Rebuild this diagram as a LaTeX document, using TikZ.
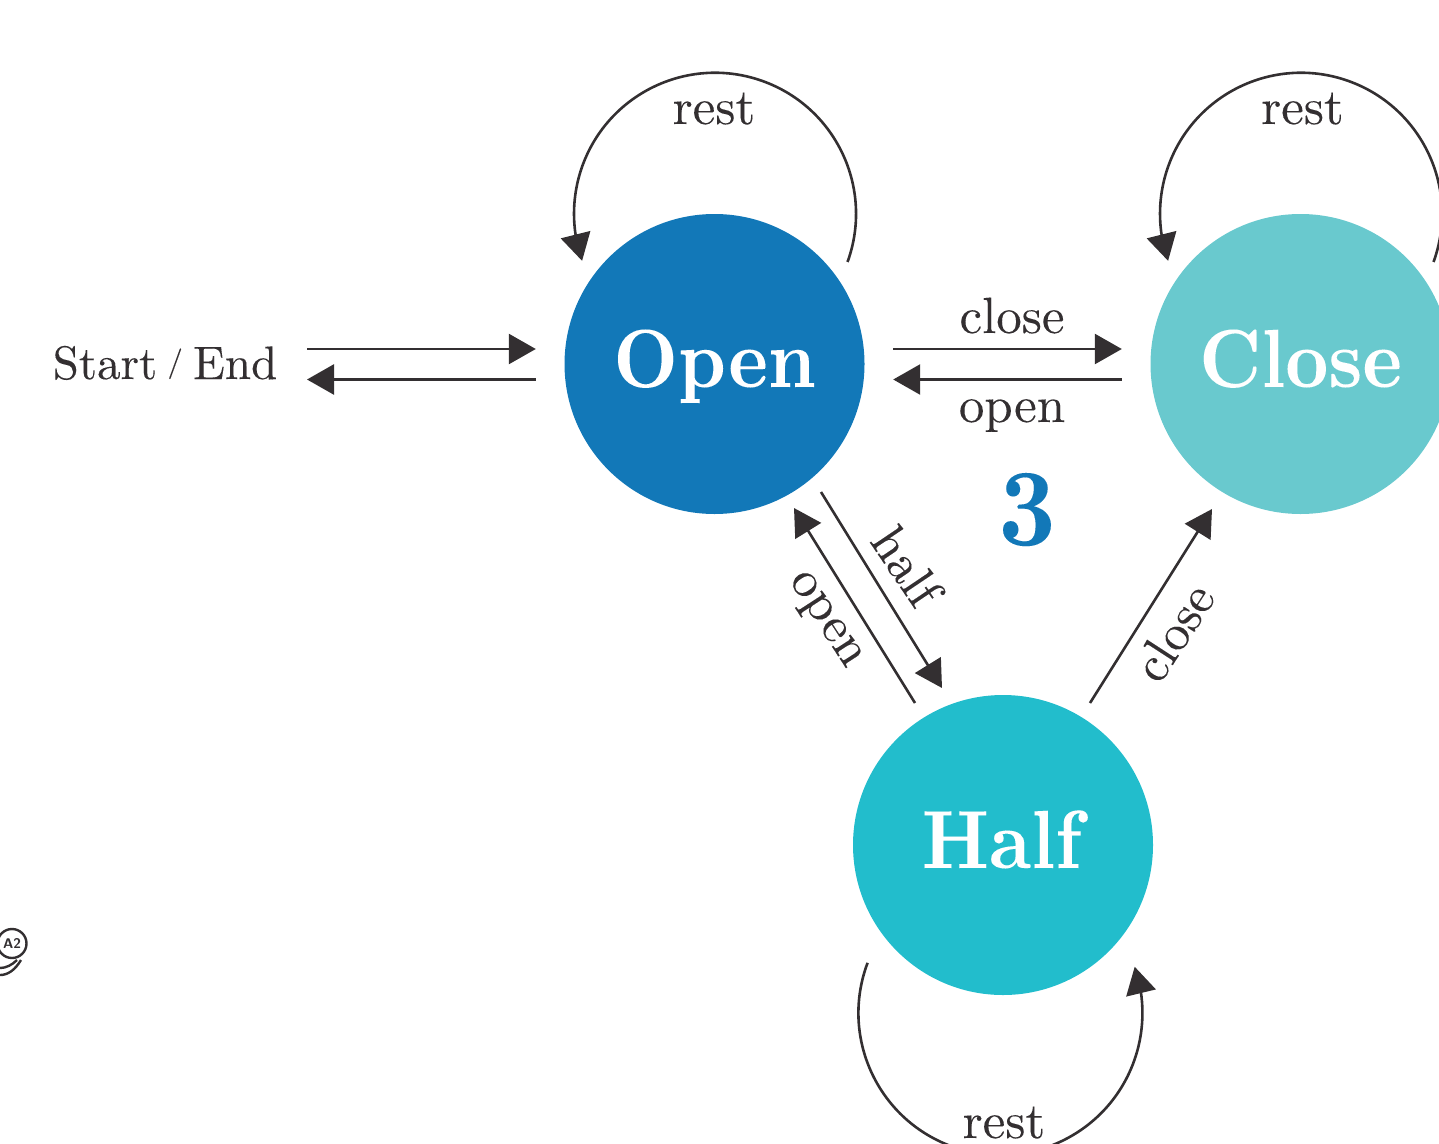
\documentclass[tikz,border=0pt]{standalone}
\usepackage{fontspec}
\usetikzlibrary{arrows.meta,bending}
\setmainfont{lmroman10-regular.otf}[FakeBold=0.12]
\newfontfamily\startfont{lmroman10-regular.otf}[FakeBold=0.12,WordSpace=0.65]
\newfontfamily\heavyfont{lmroman10-bold.otf}[FakeBold=0.04]
\definecolor{inkc}{HTML}{332F31}
\definecolor{openc}{HTML}{1278B8}
\definecolor{closec}{HTML}{69C9CE}
\definecolor{halfc}{HTML}{22BDCC}
\newcommand{\tallbox}[1]{\scalebox{1}[1.1]{#1}}
\newcommand{\shortslash}{\raisebox{7.6pt}{\scalebox{0.65}{/}}}
\tikzset{
  statenode/.style={circle,minimum size=300pt,inner sep=0pt,text=white,text height=60pt,text depth=14pt,font=\heavyfont\fontsize{75}{75}\selectfont},
  lbl/.style={inner sep=0pt,text=inkc,font=\fontsize{51}{51}\selectfont},
  conn/.style={draw=inkc,line width=2.6pt,-{Triangle[length=27pt,width=30pt]}},
}
\begin{document}
\begin{tikzpicture}[x=1pt,y=-1pt]
\useasboundingbox (0,0) rectangle (1439,1143);
\clip (0,0) rectangle (1439,1143);
\node[statenode,fill=openc] (open) at (714.5,364) {\tallbox{Open}};
\node[statenode,fill=closec] (close) at (1300.5,364) {\tallbox{Close}};
\node[statenode,fill=halfc] (half) at (1003,845) {\hspace{-3pt}\tallbox{Half}};
\node[lbl,anchor=base,font=\startfont\fontsize{47}{47}\selectfont] (startend) at (165,379) {Start \shortslash{} End};
\coordinate (seA) at (307,349);
\coordinate (seB) at (307,379.5);
\draw[conn] (seA) -- ([shift={(-28.5,-15)}]open.west);
\draw[conn] ([shift={(-28.5,15.5)}]open.west) -- (seB);
\draw[conn] ([shift={(28.5,-15)}]open.east) -- ([shift={(-28.5,-15)}]close.west);
\draw[conn] ([shift={(-28.5,15.5)}]close.west) -- ([shift={(28.5,15.5)}]open.east);
\draw[conn] ([shift={(106.5,128)}]open.center) -- ([shift={(-61,-157)}]half.center);
\draw[conn] ([shift={(-88,-142)}]half.center) -- ([shift={(79.5,144)}]open.center);
\draw[conn] ([shift={(87,-142)}]half.center) -- ([shift={(-88.5,145)}]close.center);
\draw[conn] ([shift={(133,-102)}]open.center) arc[start angle=20,end angle=-199.5,radius=141];
\draw[conn] ([shift={(133,-102)}]close.center) arc[start angle=20,end angle=-199.5,radius=141];
\draw[conn] ([shift={(-135.4,117.8)}]half.center) arc[start angle=200.7,end angle=-19,radius=142];
\node[lbl,anchor=base] (restA) at (714,124) {rest};
\node[lbl,anchor=base] (restB) at (1302.5,124) {rest};
\node[lbl,anchor=base] (restC) at (1004,1138) {rest};
\node[lbl,anchor=base] (closeT) at (1012,333) {close};
\node[lbl,anchor=base] (openB) at (1012,422) {open};
\node[lbl,rotate=-56] (halfT) at (907,566) {half};
\node[lbl,rotate=-57] (openT) at (823,621) {open};
\node[lbl,rotate=57] (closeH) at (1173.5,632) {close};
\node[anchor=base,inner sep=0pt,text=openc,font=\heavyfont\fontsize{100}{100}\selectfont] (three) at (1027,545) {\tallbox{3}};
\node[circle,draw=inkc,line width=2.4pt,minimum size=29pt,inner sep=0pt,font=\fontsize{14}{14}\selectfont\sffamily\bfseries,text=inkc] (logo) at (12,943.5) {A2};
\draw[inkc,line width=2.4pt] (17,960) .. controls (12,965) and (6,968) .. (0,968);
\draw[inkc,line width=2.4pt] (21,960) .. controls (15,970) and (8,975) .. (0,975);
\end{tikzpicture}
\end{document}
